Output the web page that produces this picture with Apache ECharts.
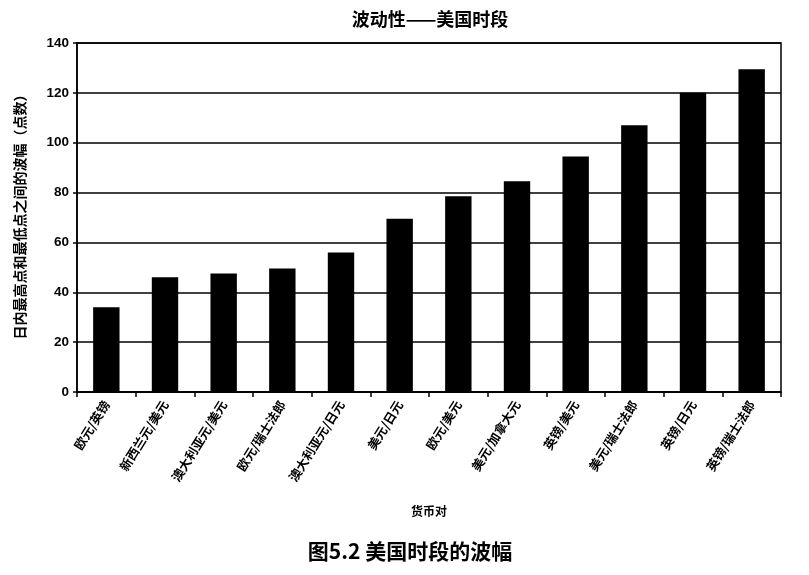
<!DOCTYPE html>
<html>
<head>
<meta charset="utf-8">
<script src="https://cdn.jsdelivr.net/npm/echarts@6/dist/echarts.min.js"></script>
<style>
html,body{margin:0;padding:0;background:#fff;}
#main{width:809px;height:575px;}
</style>
</head>
<body>
<div id="main"></div>
<script>
const categories = ['欧元/英镑','新西兰元/美元','澳大利亚元/美元','欧元/瑞士法郎','澳大利亚元/日元','美元/日元','欧元/美元','美元/加拿大元','英镑/美元','美元/瑞士法郎','英镑/日元','英镑/瑞士法郎'];
const values = [34, 46, 47.5, 49.5, 56, 69.5, 78.5, 84.5, 94.5, 107, 120, 129.5];
const yTicks = [0, 20, 40, 60, 80, 100, 120, 140];

const chart = echarts.init(document.getElementById('main'));
const font = '"Noto Sans CJK SC", "Noto Sans", sans-serif';
chart.setOption({
  animation: false,
  backgroundColor: '#fff',
  title: [
    {text: '波动性——美国时段', left: 425, top: 5, textAlign: 'center',
     textStyle: {fontFamily: font, fontSize: 18, fontWeight: 'bold', color: '#000'}},
    {text: '图5.2 美国时段的波幅', left: 405, top: 536, textAlign: 'center',
     textStyle: {fontFamily: font, fontSize: 21, fontWeight: 'bold', color: '#000'}}
  ],
  grid: {left: 77, right: 28, top: 43, bottom: 183, show: true, borderColor: '#000', borderWidth: 1.5},
  xAxis: {
    type: 'category',
    data: categories,
    name: '货币对',
    nameLocation: 'middle',
    nameGap: 113,
    nameTextStyle: {fontFamily: font, fontSize: 12, fontWeight: 'bold', color: '#000'},
    axisLine: {lineStyle: {color: '#000', width: 1.5}},
    axisTick: {show: true, alignWithLabel: false, length: 5, lineStyle: {color: '#000', width: 1.5}},
    axisLabel: {rotate: 58, fontFamily: font, fontSize: 12.5, fontWeight: 'bold', color: '#000', margin: 10, interval: 0}
  },
  yAxis: {
    type: 'value',
    min: 0, max: 140, interval: 20,
    name: '日内最高点和最低点之间的波幅（点数）',
    nameLocation: 'middle',
    nameGap: 50,
    nameRotate: 90,
    nameTextStyle: {fontFamily: font, fontSize: 14, fontWeight: 'bold', color: '#000', padding: [0, 0, 0, 8]},
    axisLine: {show: true, lineStyle: {color: '#000', width: 1.5}},
    axisTick: {show: true, length: 4, lineStyle: {color: '#000', width: 1.5}},
    axisLabel: {fontFamily: '"Liberation Sans", Arial, sans-serif', fontSize: 13.5, fontWeight: 'bold', color: '#000', margin: 8,
      formatter: v => yTicks.includes(v) ? String(v) : ''},
    splitLine: {show: true, lineStyle: {color: '#000', width: 1.5}}
  },
  series: [{
    type: 'bar',
    data: values,
    barWidth: '45%',
    itemStyle: {color: '#000'}
  }]
});
</script>
</body>
</html>
